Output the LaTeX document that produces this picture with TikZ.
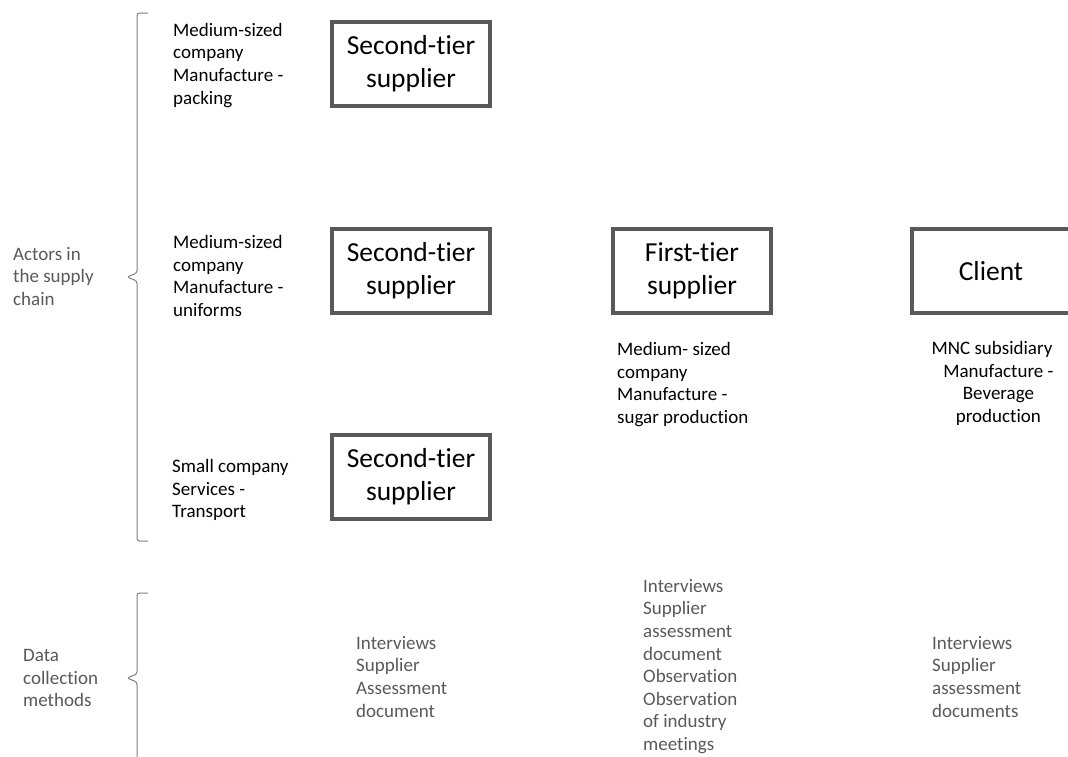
\documentclass[tikz,border=0pt]{standalone}
\usepackage{fontspec}
\setmainfont{Carlito}[Ligatures=CommonOff]
\usepackage{xcolor}
\usepackage{tikz}
\definecolor{framegray}{HTML}{595959}
\definecolor{labelgray}{HTML}{595959}
\definecolor{bracegray}{HTML}{808080}

\begin{document}
\begin{tikzpicture}[
  x=1pt, y=-1pt,
  tier/.style={draw=framegray, line width=3.5pt, fill=white,
               minimum width=158pt, minimum height=84pt, align=center,
               inner sep=0pt, font=\fontsize{27.5}{33}\selectfont},
  actor/.style={anchor=north west, align=left, inner sep=0pt,
                font=\fontsize{19}{22.6}\selectfont},
  method/.style={actor, text=labelgray},
  bracket/.style={draw=bracegray, line width=1pt, rounded corners=2.5pt},
]
  \useasboundingbox (0,0) rectangle (1068,756);
  \clip (0,0) rectangle (1068,756);

  % Boxes
  \node[tier] (sup2a) at (411, 64) {Second-tier\\supplier};
  \node[tier] (sup2b) at (411, 271) {Second-tier\\supplier};
  \node[tier] (sup2c) at (411, 477) {Second-tier\\supplier};
  \node[tier] (sup1) at (692, 271) {First-tier\\supplier};
  \node[tier] (client) at (991, 271) {Client};

  % Actor descriptions
  \node[actor] (descA) at (173, 23) {Medium-sized\\company\\Manufacture -\\packing};
  \node[actor] (descB) at (173, 235) {Medium-sized\\company\\Manufacture -\\uniforms};
  \node[actor] (descC) at (172, 459) {Small company\\Services -\\Transport};
  \node[actor] (descD) at (617, 342) {Medium- sized\\company\\Manufacture -\\sugar production};
  \node[actor, anchor=north, align=center] (descE) at (992, 341)
    {MNC subsidiary\\\ \ \ Manufacture -\\\ \ \ Beverage\\\ \ \ production};

  % Row labels
  \node[method] (lblActors) at (13, 247) {Actors in\\the supply\\chain};
  \node[method] (lblData) at (23, 649) {Data\\collection\\methods};

  % Data collection methods
  \node[method] (dataA) at (356, 636) {Interviews\\Supplier\\Assessment\\document};
  \node[method] (dataB) at (643, 579) {Interviews\\Supplier\\assessment\\document\\Observation\\Observation\\of industry\\meetings};
  \node[method] (dataC) at (932, 636) {Interviews\\Supplier\\assessment\\documents};

  % Brackets
  \draw[bracket] (148,13) -- (137,13) -- (137,273) -- (127,277)
    -- (137,281) -- (137,541) -- (148,541);
  \draw[bracket] (148,593) -- (137,593) -- (137,674) -- (127,678)
    -- (137,682) -- (137,763) -- (148,763);

\end{tikzpicture}
\end{document}
